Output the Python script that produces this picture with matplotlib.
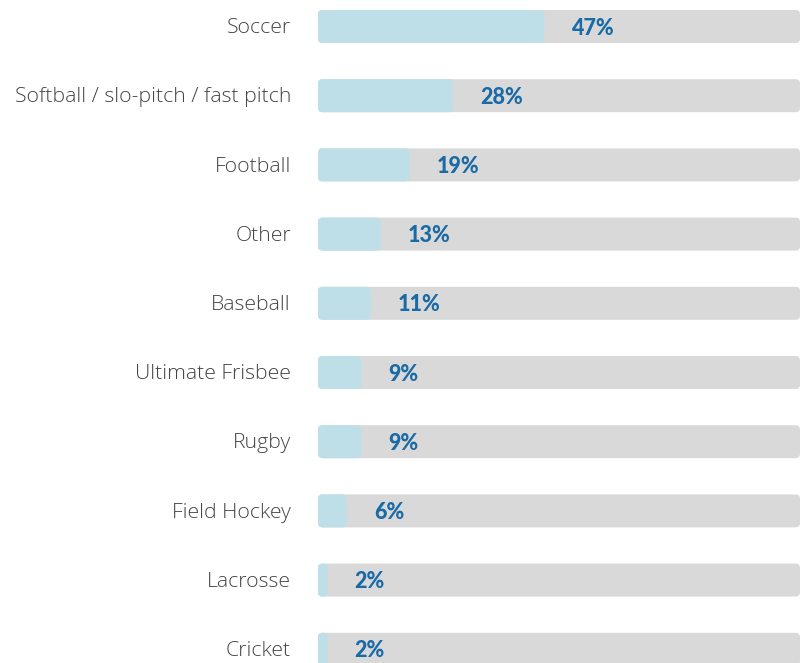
import matplotlib
matplotlib.use("Agg")
import matplotlib.pyplot as plt
from matplotlib.patches import FancyBboxPatch

categories = ["Soccer", "Softball / slo-pitch / fast pitch", "Football", "Other", "Baseball",
              "Ultimate Frisbee", "Rugby", "Field Hockey", "Lacrosse", "Cricket"]
values = [47, 28, 19, 13, 11, 9, 9, 6, 2, 2]
value_labels = ["47%", "28%", "19%", "13%", "11%", "9%", "9%", "6%", "2%", "2%"]

W, H = 802, 663
fig = plt.figure(figsize=(W / 100, H / 100), dpi=100)
x0, x1 = 318, 800
ax = fig.add_axes([x0 / W, 0, (x1 - x0) / W, 1])
pitch = 69.2
first = 26.5
ax.set_xlim(0, 100)
ax.set_ylim((H - first) / pitch, -first / pitch)
ax.axis("off")

px_x = (x1 - x0) / 100.0  # px per percent
bar_h = 33 / pitch
r_px = 4.5
r = r_px / px_x
ma = (r_px / pitch) / r

gray = "#d9d9d9"
blue = "#bfdfe8"
txt_blue = "#1a6aa6"
lab_col = "#444444"

for i, (cat, v, lab) in enumerate(zip(categories, values, value_labels)):
    bg = FancyBboxPatch((0, i - bar_h / 2), 100, bar_h,
                        boxstyle=f"round,pad=0,rounding_size={r}",
                        mutation_aspect=ma, facecolor=gray, edgecolor="none")
    ax.add_patch(bg)
    fg = FancyBboxPatch((0, i - bar_h / 2), v, bar_h,
                        boxstyle=f"round,pad=0,rounding_size={min(r, v / 2)}",
                        mutation_aspect=ma * r / min(r, v / 2), facecolor=blue, edgecolor="none")
    ax.add_patch(fg)
    ax.annotate(lab, (v, i), xytext=(19.5, -1.2), textcoords="offset points",
                ha="left", va="center", fontsize=15.5, fontweight="black",
                color=txt_blue, family="Lato")
    ax.annotate(cat, (0, i), xytext=(-19.5, -1.2), textcoords="offset points",
                ha="right", va="center", fontsize=15.3, fontweight="light",
                color=lab_col, family="Open Sans", annotation_clip=False)

fig.savefig("out.png", dpi=100, facecolor="white")
